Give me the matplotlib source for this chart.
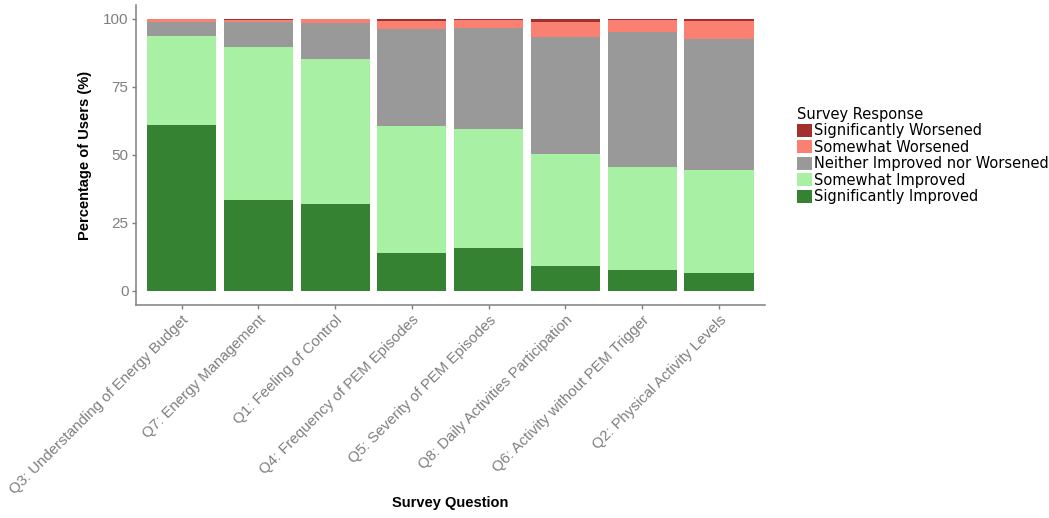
import numpy as np
import matplotlib
matplotlib.use('Agg')
import matplotlib.pyplot as plt
from matplotlib.patches import Patch

questions = ['Q3: Understanding of Energy Budget',
             'Q7: Energy Management',
             'Q1: Feeling of Control',
             'Q4: Frequency of PEM Episodes',
             'Q5: Severity of PEM Episodes',
             'Q8: Daily Activities Participation',
             'Q6: Activity without PEM Trigger',
             'Q2: Physical Activity Levels']

# percentages per response, stacked bottom to top
sig_improved = [61.0, 33.3, 31.8, 13.9, 15.7, 9.3, 7.8, 6.5]
some_improved = [32.7, 56.5, 53.4, 46.8, 43.7, 41.1, 37.9, 38.1]
neither = [5.3, 9.2, 13.5, 35.5, 37.4, 42.9, 49.5, 47.9]
some_worsened = [1.0, 0.5, 1.3, 3.0, 2.9, 5.6, 4.5, 6.6]
sig_worsened = [0.0, 0.5, 0.0, 0.8, 0.3, 1.1, 0.3, 0.9]

responses = ['Significantly Improved', 'Somewhat Improved',
             'Neither Improved nor Worsened', 'Somewhat Worsened',
             'Significantly Worsened']
colors = ['#358232', '#A8F0A4', '#999999', '#FA8072', '#A2302F']

series = [sig_improved, some_improved, neither, some_worsened, sig_worsened]

fig = plt.figure(figsize=(10.49, 5.18), dpi=100)
ax = fig.add_axes([0.1292, 0.412, 0.6001, 0.5776])

x = np.arange(1, len(questions) + 1)
bottom = np.zeros(len(questions))
for vals, col, name in zip(series, colors, responses):
    ax.bar(x, vals, width=0.9, bottom=bottom, color=col, label=name, linewidth=0)
    bottom += np.array(vals)

ax.set_xlim(0.4, 8.6)
ax.set_ylim(-5, 105)
ax.set_yticks([0, 25, 50, 75, 100])
ax.set_xticks(x)
ax.set_xticklabels(questions, rotation=45, ha='right', rotation_mode='anchor',
                   fontsize=10.8, color='#4d4d4d', family='Liberation Sans')
for lab in ax.get_yticklabels():
    lab.set_fontsize(11)
    lab.set_color('#4d4d4d')
    lab.set_family('Liberation Sans')

for side in ['top', 'right']:
    ax.spines[side].set_visible(False)
for side in ['left', 'bottom']:
    ax.spines[side].set_color('#7f7f7f')
    ax.spines[side].set_linewidth(1.1)
ax.tick_params(colors='#7f7f7f', length=3, width=1, pad=2)
ax.tick_params(axis='x', pad=3)

ax.set_ylabel('Percentage of Users (%)', fontsize=10.5, fontweight='bold',
              family='Liberation Sans', labelpad=8)
fig.text(0.429, 1 - 503 / 518, 'Survey Question', fontsize=10.5, fontweight='bold',
         family='Liberation Sans', ha='center', va='center')

# legend, top to bottom reversed like ggplot
handles = [Patch(facecolor=c, edgecolor='none') for c in colors][::-1]
leg = fig.legend(handles, responses[::-1], title='Survey Response',
                 loc='upper left', bbox_to_anchor=(797 / 1049, 1 - 107 / 518),
                 frameon=False, fontsize=10.5, title_fontsize=10.5,
                 handlelength=1.0, handleheight=1.0, handletextpad=0.2,
                 labelspacing=0.1, borderpad=0, borderaxespad=0,
                 alignment='left')

fig.savefig('out.png', dpi=100)
